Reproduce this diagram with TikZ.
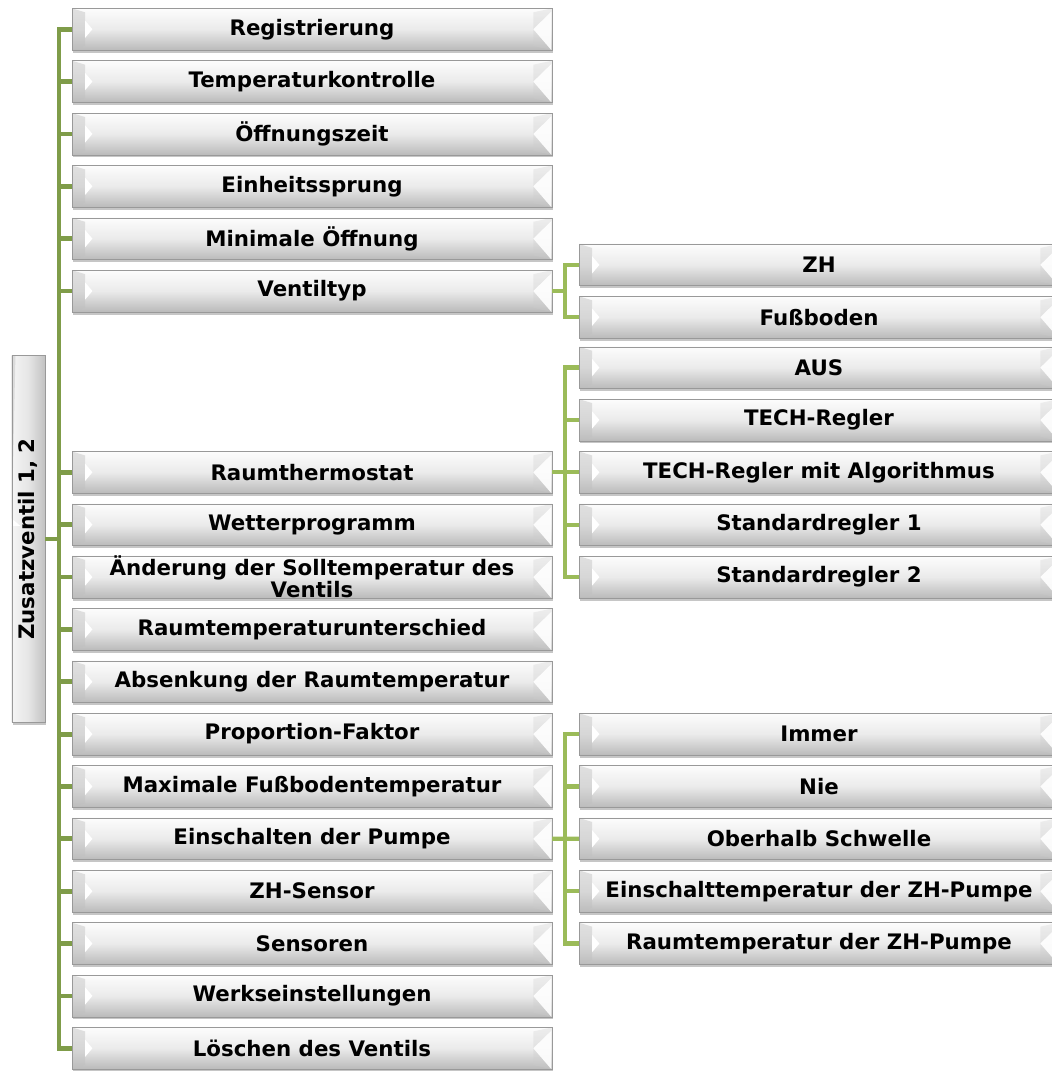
\documentclass[tikz,border=0pt]{standalone}
\usepackage{fontspec}
\setmainfont{DejaVu Sans}
\usepackage{tikz}
\usetikzlibrary{shadows}
\definecolor{stemdark}{HTML}{7F9C49}
\definecolor{stemlight}{HTML}{9BBB59}
\tikzset{
  menubox/.style={rectangle, minimum width=360pt, minimum height=31.3pt, inner sep=0pt,
    align=center, font=\fontsize{16}{15.5}\selectfont\bfseries,
    draw=black!40, line width=0.3pt,
    top color=black!1, bottom color=black!27, middle color=black!8,
    drop shadow={opacity=0.45, shadow xshift=0.6pt, shadow yshift=-2pt},
    path picture={
      \fill[black!25, opacity=0.45] (path picture bounding box.north west) -- ++(9.8pt,-3pt)
        -- ([xshift=9.8pt,yshift=3pt]path picture bounding box.south west)
        -- (path picture bounding box.south west) -- cycle;
      \fill[white] ([xshift=9.8pt,yshift=6.5pt]path picture bounding box.west)
        -- ++(5.5pt,-6.5pt) -- ++(-5.5pt,-6.5pt) -- cycle;
      \fill[black!20, opacity=0.3] (path picture bounding box.north east) -- ++(-14pt,-3pt)
        -- ([xshift=-14pt,yshift=3pt]path picture bounding box.south east)
        -- (path picture bounding box.south east) -- cycle;
      \fill[white, opacity=0.9] ([xshift=-0.5pt,yshift=-2.5pt]path picture bounding box.north east)
        -- ([xshift=-14pt]path picture bounding box.east)
        -- ([xshift=-0.5pt]path picture bounding box.south east) -- cycle;
    }},
  rootbox/.style={menubox, rotate=90, minimum width=275pt, minimum height=25pt,
    left color=black!4, right color=black!24, middle color=black!10},
  stem/.style={stemdark, line width=3.6pt},
  twig/.style={stemlight, line width=3.2pt},
}

\begin{document}
\begin{tikzpicture}[x=0.75pt, y=-0.75pt]

  \newcommand\cL{312}
  \newcommand\cR{819}
  \newcommand\dy{52.36}

  \clip (0,0) rectangle (1052,1071);

  % level 0
  \node[rootbox] (root) at (28.4, 539) {Zusatzventil 1, 2};

  % level 1, upper group
  \node[menubox] (reg)  at (\cL, 29.2+0*\dy) {Registrierung};
  \node[menubox] (tkon) at (\cL, 29.2+1*\dy) {Temperaturkontrolle};
  \node[menubox] (oeff) at (\cL, 29.2+2*\dy) {Öffnungszeit};
  \node[menubox] (eins) at (\cL, 29.2+3*\dy) {Einheitssprung};
  \node[menubox] (mino) at (\cL, 29.2+4*\dy) {Minimale Öffnung};
  \node[menubox] (vtyp) at (\cL, 29.2+5*\dy) {Ventiltyp};

  % level 1, lower group
  \node[menubox] (rthe) at (\cL, 472.3+0*\dy)  {Raumthermostat};
  \node[menubox] (wett) at (\cL, 472.3+1*\dy)  {Wetterprogramm};
  \node[menubox] (aend) at (\cL, 472.3+2*\dy)  {Änderung der Solltemperatur des\\Ventils};
  \node[menubox] (rtun) at (\cL, 472.3+3*\dy)  {Raumtemperaturunterschied};
  \node[menubox] (absk) at (\cL, 472.3+4*\dy)  {Absenkung der Raumtemperatur};
  \node[menubox] (prop) at (\cL, 472.3+5*\dy)  {Proportion-Faktor};
  \node[menubox] (maxf) at (\cL, 472.3+6*\dy)  {Maximale Fußbodentemperatur};
  \node[menubox] (pump) at (\cL, 472.3+7*\dy)  {Einschalten der Pumpe};
  \node[menubox] (zhs)  at (\cL, 472.3+8*\dy)  {ZH-Sensor};
  \node[menubox] (sens) at (\cL, 472.3+9*\dy)  {Sensoren};
  \node[menubox] (werk) at (\cL, 472.3+10*\dy) {Werkseinstellungen};
  \node[menubox] (loes) at (\cL, 472.3+11*\dy) {Löschen des Ventils};

  % level 2
  \node[menubox] (zh)   at (\cR, 291-0.5*\dy) {ZH};
  \node[menubox] (fuss) at (\cR, 291+0.5*\dy) {Fußboden};

  \node[menubox] (aus)  at (\cR, 472.3-2*\dy) {AUS};
  \node[menubox] (treg) at (\cR, 472.3-1*\dy) {TECH-Regler};
  \node[menubox] (talg) at (\cR, 472.3+0*\dy) {TECH-Regler mit Algorithmus};
  \node[menubox] (std1) at (\cR, 472.3+1*\dy) {Standardregler 1};
  \node[menubox] (std2) at (\cR, 472.3+2*\dy) {Standardregler 2};

  \node[menubox] (imm)  at (\cR, 838.8-2*\dy) {Immer};
  \node[menubox] (nie)  at (\cR, 838.8-1*\dy) {Nie};
  \node[menubox] (oberh) at (\cR, 838.8+0*\dy) {Oberhalb Schwelle};
  \node[menubox] (etmp) at (\cR, 838.8+1*\dy) {Einschalttemperatur der ZH-Pumpe};
  \node[menubox] (rtmp) at (\cR, 838.8+2*\dy) {Raumtemperatur der ZH-Pumpe};

  % trunk
  \coordinate (trunk) at (59, 539);
  \draw[stem] (root.south) -- (trunk); % rotated node: south is on the right
  \draw[stem] (reg.west) -| (trunk) |- (loes.west);
  \draw[stem] (trunk |- tkon.west) -- (tkon.west);
  \draw[stem] (trunk |- oeff.west) -- (oeff.west);
  \draw[stem] (trunk |- eins.west) -- (eins.west);
  \draw[stem] (trunk |- mino.west) -- (mino.west);
  \draw[stem] (trunk |- vtyp.west) -- (vtyp.west);
  \draw[stem] (trunk |- rthe.west) -- (rthe.west);
  \draw[stem] (trunk |- wett.west) -- (wett.west);
  \draw[stem] (trunk |- aend.west) -- (aend.west);
  \draw[stem] (trunk |- rtun.west) -- (rtun.west);
  \draw[stem] (trunk |- absk.west) -- (absk.west);
  \draw[stem] (trunk |- prop.west) -- (prop.west);
  \draw[stem] (trunk |- maxf.west) -- (maxf.west);
  \draw[stem] (trunk |- pump.west) -- (pump.west);
  \draw[stem] (trunk |- zhs.west) -- (zhs.west);
  \draw[stem] (trunk |- sens.west) -- (sens.west);
  \draw[stem] (trunk |- werk.west) -- (werk.west);

  % Ventiltyp -> ZH, Fussboden
  \coordinate (vfork) at (565, 291);
  \draw[twig] (vtyp.east) -- (vfork);
  \draw[twig] (zh.west) -| (vfork) |- (fuss.west);

  % Raumthermostat -> Regler
  \coordinate (rfork) at (565, 472.3);
  \draw[twig] (rthe.east) -- (talg.west);
  \draw[twig] (aus.west) -| (rfork) |- (std2.west);
  \draw[twig] (rfork |- treg.west) -- (treg.west);
  \draw[twig] (rfork |- std1.west) -- (std1.west);

  % Einschalten der Pumpe -> Modi
  \coordinate (pfork) at (565, 838.8);
  \draw[twig] (pump.east) -- (oberh.west);
  \draw[twig] (imm.west) -| (pfork) |- (rtmp.west);
  \draw[twig] (pfork |- nie.west) -- (nie.west);
  \draw[twig] (pfork |- etmp.west) -- (etmp.west);

\end{tikzpicture}
\end{document}
